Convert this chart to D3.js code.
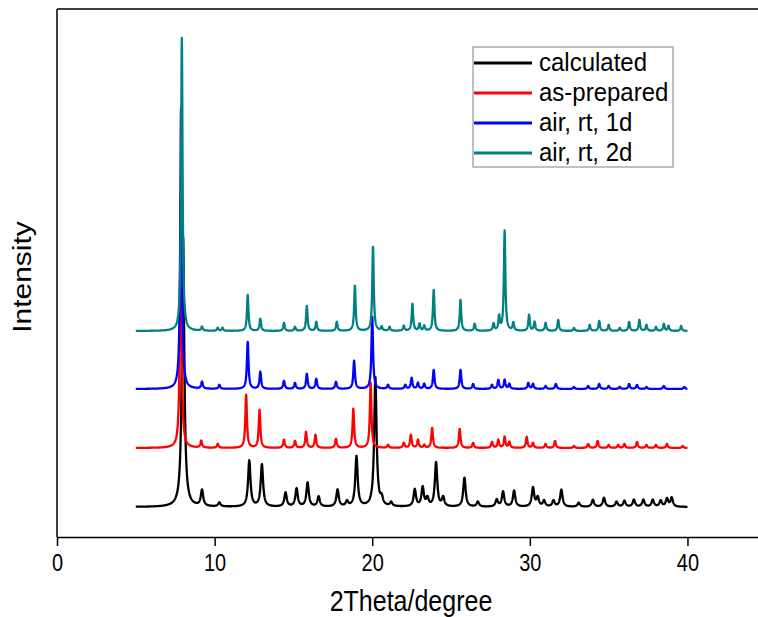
<!DOCTYPE html>
<html>
<head>
<meta charset="utf-8">
<script src="https://cdn.jsdelivr.net/npm/d3@7"></script>
<style>
  body { margin: 0; background: #fff; }
  svg { font-family: "Liberation Sans", Arial, sans-serif; }
</style>
</head>
<body>
<div class="chart"></div>
<script>
// series names, colours and vertical offsets (stacked patterns)
const seriesNames = ["calculated", "as-prepared", "air, rt, 1d", "air, rt, 2d"];
const seriesColors = ["#000000", "#ff0000", "#0000ff", "#008080"];
const seriesOffsets = [30, 89, 148, 206];
const peakWidths = [0.18, 0.12, 0.12, 0.11];

// peaks: [2theta, height]
const calcPeaks = [
  [8.0, 270], [9.2, 16], [10.3, 4], [12.2, 46], [13.0, 42], [14.5, 14], [15.2, 18],
  [15.9, 24], [16.6, 10], [17.8, 17], [18.4, 5], [19.0, 50], [20.2, 129], [20.6, 7],
  [21.2, 4], [22.7, 17], [23.2, 19], [23.5, 8], [24.05, 44], [24.5, 9], [25.85, 29],
  [26.7, 5], [27.9, 7], [28.3, 15], [29.0, 16], [30.2, 19], [30.5, 9], [30.9, 6],
  [31.5, 6], [32.0, 17], [33.1, 4], [34.0, 7], [34.7, 9], [35.5, 5], [36.0, 6],
  [36.6, 7], [37.2, 7], [37.8, 7], [38.3, 6], [38.7, 8], [39.0, 9]
];
const asPreparedPeaks = [
  [7.85, 251], [9.15, 7], [10.2, 4], [12.0, 53], [12.85, 38], [14.4, 8], [15.1, 7],
  [15.8, 16], [16.4, 13], [17.7, 9], [18.8, 39], [19.9, 65], [21.0, 3], [22.0, 5],
  [22.45, 13], [22.9, 8], [23.3, 3], [23.8, 20], [25.55, 19], [26.4, 5], [27.6, 6],
  [28.0, 8], [28.4, 11], [28.7, 6], [29.8, 11], [30.2, 5], [31.0, 4], [31.6, 7],
  [32.8, 2], [33.7, 4], [34.3, 7], [35.0, 3], [35.6, 3], [36.0, 4], [36.8, 6],
  [37.4, 3], [38.0, 3], [38.7, 4], [39.7, 2]
];
const air1dPeaks = [
  [7.87, 281], [9.2, 7], [10.3, 4], [12.1, 47], [12.9, 17], [14.4, 8], [15.1, 6],
  [15.85, 15], [16.45, 10], [17.7, 7], [18.85, 28], [20.0, 72], [21.0, 4], [22.1, 4],
  [22.5, 11], [22.9, 6], [23.3, 5], [23.9, 19], [25.6, 19], [26.4, 5], [27.6, 4],
  [28.0, 9], [28.4, 9], [28.7, 5], [29.9, 6], [30.2, 5], [31.0, 3], [31.65, 5],
  [32.8, 2], [33.7, 3], [34.4, 5], [35.0, 3], [35.7, 2], [36.3, 5], [36.8, 4],
  [37.4, 2], [38.5, 3], [39.8, 2]
];
const air2dPeaks = [
  [7.92, 293], [9.2, 4], [10.2, 3], [10.5, 3], [12.1, 36], [12.9, 12], [14.4, 8],
  [15.1, 4], [15.85, 25], [16.45, 9], [17.75, 9], [18.9, 45], [20.05, 84], [20.6, 4],
  [21.1, 4], [22.0, 5], [22.55, 27], [23.0, 7], [23.3, 5], [23.9, 41], [25.6, 31],
  [26.5, 7], [27.7, 7], [28.05, 14], [28.4, 100], [28.95, 8], [29.95, 16], [30.3, 9],
  [31.0, 8], [31.8, 11], [32.8, 3], [33.8, 6], [34.4, 10], [35.0, 6], [35.7, 3],
  [36.3, 9], [36.95, 11], [37.4, 6], [38.0, 4], [38.5, 7], [38.8, 5], [39.6, 5]
];
const allPeaks = [calcPeaks, asPreparedPeaks, air1dPeaks, air2dPeaks];

const xTicks = [0, 10, 20, 30, 40];
const scanRange = [5, 40];

const width = 758, height = 617;
const margin = { top: 9, right: -13, bottom: 80, left: 57 };
const innerW = width - margin.left - margin.right;
const innerH = height - margin.top - margin.bottom;

const svg = d3.select(".chart").append("svg")
  .attr("width", width)
  .attr("height", height);

const g = svg.append("g")
  .attr("transform", `translate(${margin.left}, ${margin.top})`);

const x = d3.scaleLinear().domain([0, 45.3]).range([0, innerW]);
const y = d3.scaleLinear().domain([0, innerH]).range([innerH, 0]);

// build each pattern as a sum of Lorentzian peaks
const step = 0.01;
const grid = d3.range(scanRange[0], scanRange[1] + step / 2, step);
const patterns = allPeaks.map((peaks, i) => {
  const hw = peakWidths[i] / 2;
  return grid.map(t => {
    let v = 0;
    peaks.forEach(([p, h]) => { const u = (t - p) / hw; v += h / (1 + u * u); });
    return { t: t, v: v + seriesOffsets[i] };
  });
});

const line = d3.line()
  .x(d => x(d.t))
  .y(d => y(d.v));

patterns.forEach((data, i) => {
  g.append("path")
    .datum(data)
    .attr("fill", "none")
    .attr("stroke", seriesColors[i])
    .attr("stroke-width", 2.3)
    .attr("stroke-linejoin", "round")
    .attr("d", line);
});

// axes (text in the original is a bit taller than wide)
const xAxis = g.append("g")
  .attr("transform", `translate(0, ${innerH})`)
  .call(d3.axisBottom(x).tickValues(xTicks).tickSize(9).tickSizeOuter(0));
xAxis.select(".domain").attr("stroke-width", 1.5);
xAxis.selectAll(".tick line").attr("stroke-width", 1.5);
xAxis.selectAll("text")
  .attr("font-size", 20)
  .attr("font-family", "Liberation Sans, Arial, sans-serif")
  .attr("y", 0)
  .attr("transform", "translate(0, 17) scale(1, 1.2)");

g.append("line")
  .attr("x1", 0).attr("x2", 0).attr("y1", 0).attr("y2", innerH)
  .attr("stroke", "#000").attr("stroke-width", 1.5);
g.append("line")
  .attr("x1", 0).attr("x2", innerW).attr("y1", 0).attr("y2", 0)
  .attr("stroke", "#000").attr("stroke-width", 1.5);

svg.append("text")
  .attr("transform", "translate(411, 611) scale(1, 1.15)")
  .attr("text-anchor", "middle")
  .attr("font-size", 25)
  .text("2Theta/degree");

svg.append("text")
  .attr("transform", "translate(31, 277) scale(1, 1.2) rotate(-90)")
  .attr("text-anchor", "middle")
  .attr("font-size", 25)
  .text("Intensity");

// legend
const legend = svg.append("g").attr("transform", "translate(473, 47)");
legend.append("rect")
  .attr("width", 200).attr("height", 120)
  .attr("fill", "#fff").attr("stroke", "#808080").attr("stroke-width", 1);
seriesNames.forEach((name, i) => {
  const ry = 16 + i * 30;
  legend.append("line")
    .attr("x1", 1).attr("x2", 59).attr("y1", ry).attr("y2", ry)
    .attr("stroke", seriesColors[i]).attr("stroke-width", 3);
  legend.append("text")
    .attr("transform", `translate(66, ${ry + 8}) scale(1, 1.1)`)
    .attr("font-size", 24)
    .text(name);
});
</script>
</body>
</html>
